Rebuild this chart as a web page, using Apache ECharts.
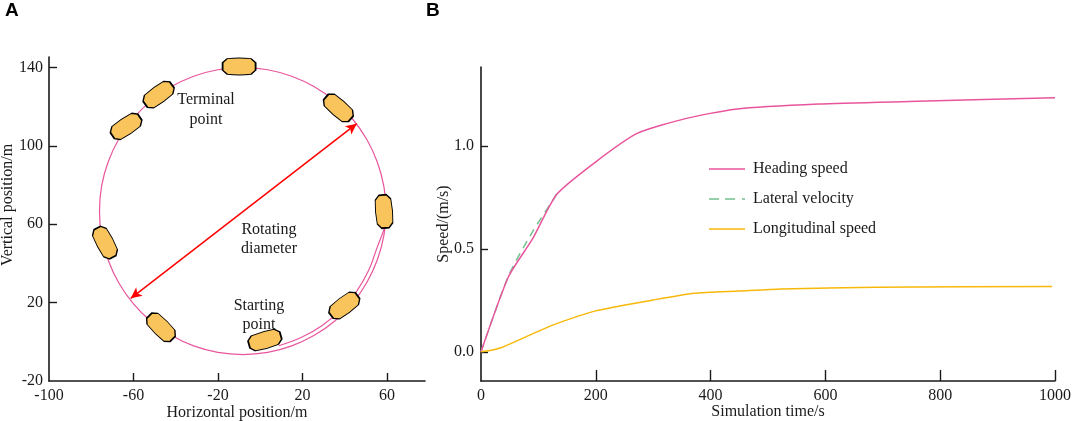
<!DOCTYPE html>
<html><head><meta charset="utf-8">
<script src="https://cdn.jsdelivr.net/npm/echarts@6/dist/echarts.min.js"></script>
<style>html,body{margin:0;padding:0;background:#fff}#c{width:1072px;height:421px}</style>
</head><body><div id="c"></div>
<script>
// ---------- Panel A data ----------
const trajectoryMain = [
  [59.5,66.7],[58.5,79.4],[55.4,91.7],[50.4,103.3],[43.6,113.8],[35.3,122.8],[25.6,130.1],
  [14.9,135.5],[3.5,138.8],[-8.3,139.9],[-20.1,138.8],[-31.5,135.5],[-42.2,130.1],
  [-51.9,122.8],[-60.2,113.8],[-67.0,103.3],[-72.0,91.7],[-75.1,79.4],[-76.1,66.7],
  [-75.1,54.0],[-72.0,41.7],[-67.0,30.1],[-60.2,19.6],[-51.9,10.6],[-42.2,3.3],
  [-31.5,-2.1],[-20.1,-5.4],[-8.3,-6.5],[3.5,-5.4],[14.9,-2.1],[25.6,3.3],[35.3,10.6],
  [43.6,19.6],[50.4,30.1],[55.4,41.7],[58.5,54.0],[59.5,66.7]
];
const trajectoryStart = [[8.8,-2.0],[19.6,2.3],[29.5,8.5],[38.3,16.4],[45.7,25.9],[51.4,36.6],[55.4,48.3],[58.0,55.5],[59.0,58.5]];
const shipX = [-10.0, -48.1, -63.5, -73.5, -47.0, 2.2, 39.8, 58.6, 37.0];
const shipY = [140.5, 126.1, 109.9, 50.6, 7.4, 0.9, 18.5, 66.5, 119.3];
const shipAngle = [0, 36, 34, -62, -45, 16, 37, 95, -41];
const arrowStart = [-61.3, 22.2];
const arrowEnd = [45.7, 111.3];
const xTicksA = [-100, -60, -20, 20, 60];
const yTicksA = [-20, 20, 60, 100, 140];

// ---------- Panel B data ----------
const headingTime = [0, 48, 90, 132, 200, 272, 356, 443, 588, 761, 1000];
const headingSpeed = [0, 0.366, 0.55, 0.766, 0.924, 1.062, 1.134, 1.18, 1.205, 1.218, 1.236];
const lateralTime = [0, 48, 90, 132];
const lateralSpeed = [0, 0.37, 0.585, 0.766];
const longTime = [0, 18, 36, 80, 126, 200, 300, 371, 450, 523, 689, 995];
const longSpeed = [0, 0.008, 0.021, 0.075, 0.131, 0.199, 0.252, 0.285, 0.296, 0.306, 0.314, 0.317];
const xTicksB = [0, 200, 400, 600, 800, 1000];
const yTicksB = [0, 0.5, 1.0];
const legendNames = ['Heading speed', 'Lateral velocity', 'Longitudinal speed'];

const serif = 'Liberation Serif';
const ink = '#1a1a1a';
const pink = '#e8559c';
const green = '#72c08e';
const orange = '#f8b80a';

const pairs = (a, b) => a.map((v, i) => [v, b[i]]);

function axisCommon(extra) {
  return Object.assign({
    type: 'value',
    splitLine: { show: false },
    nameMoveOverlap: false,
    axisLine: { show: true, onZero: false, lineStyle: { color: ink, width: 1.6 } },
    nameTextStyle: { fontFamily: serif, fontSize: 16, color: ink }
  }, extra);
}

const shipPath = 'path://M14,2 Q50,-2 86,2 L100,14 L100,36 L86,48 Q50,52 14,48 L0,36 L0,14 Z';
const solidIcon = 'path://M0,0 H36 V1.6 H0 Z';
const dashIcon = 'path://M0,0 H10 V1.6 H0 Z M16,0 H26 V1.6 H16 Z M33,0 H36 V1.6 H33 Z';

const chart = echarts.init(document.getElementById('c'), null, { renderer: 'canvas' });
chart.setOption({
  animation: false,
  backgroundColor: '#fff',
  grid: [
    { left: 49, top: 57, width: 376, height: 324, outerBoundsMode: 'none', containLabel: false },
    { left: 481, top: 67, width: 574, height: 314, outerBoundsMode: 'none', containLabel: false }
  ],
  xAxis: [
    axisCommon({
      gridIndex: 0, min: -100, max: 78,
      axisTick: { show: true, inside: true, length: 8, customValues: xTicksA.slice(1), lineStyle: { color: ink, width: 1.4 } },
      axisLabel: { customValues: xTicksA, margin: 7, fontFamily: serif, fontSize: 16, color: ink }
    }),
    axisCommon({
      gridIndex: 1, min: 0, max: 1000,
      axisTick: { show: true, inside: true, length: 11, customValues: xTicksB.slice(1), lineStyle: { color: ink, width: 1.4 } },
      axisLabel: { customValues: xTicksB, margin: 7, fontFamily: serif, fontSize: 16, color: ink, formatter: v => String(v) },
      name: 'Simulation time/s', nameLocation: 'middle', nameGap: 23
    })
  ],
  yAxis: [
    axisCommon({
      gridIndex: 0, min: -20, max: 145.3,
      axisTick: { show: true, inside: true, length: 8, customValues: yTicksA.slice(1), lineStyle: { color: ink, width: 1.4 } },
      axisLabel: { customValues: yTicksA, margin: 6, fontFamily: serif, fontSize: 16, color: ink }
    }),
    axisCommon({
      gridIndex: 1, min: -0.142, max: 1.385,
      axisTick: { show: true, inside: true, length: 7, customValues: yTicksB, lineStyle: { color: ink, width: 1.4 } },
      axisLabel: { customValues: yTicksB, margin: 7, fontFamily: serif, fontSize: 16, color: ink, formatter: v => v.toFixed(1) },
      name: 'Speed/(m/s)', nameLocation: 'middle', nameGap: 29
    })
  ],
  legend: {
    orient: 'vertical', left: 709, top: 161, padding: 0,
    itemWidth: 36, itemHeight: 1.6, itemGap: 14,
    textStyle: { fontFamily: serif, fontSize: 16, color: ink, padding: [0, 0, 0, 3] },
    data: [
      { name: legendNames[0], icon: solidIcon },
      { name: legendNames[1], icon: dashIcon },
      { name: legendNames[2], icon: solidIcon }
    ]
  },
  series: [
    {
      type: 'line', xAxisIndex: 0, yAxisIndex: 0, data: trajectoryMain, smooth: 0.4,
      showSymbol: false, symbol: 'none', clip: false,
      lineStyle: { color: pink, width: 1.2 }, z: 2,
      markLine: {
        silent: true, symbol: ['arrow', 'arrow'], symbolSize: [8, 11],
        label: { show: false },
        lineStyle: { color: '#ff0000', width: 1.5, type: 'solid' },
        data: [[{ coord: arrowStart }, { coord: arrowEnd }]]
      }
    },
    {
      type: 'line', xAxisIndex: 0, yAxisIndex: 0, data: trajectoryStart, smooth: 0.4,
      showSymbol: false, symbol: 'none', clip: false,
      lineStyle: { color: pink, width: 1.2 }, z: 2
    },
    {
      type: 'scatter', xAxisIndex: 0, yAxisIndex: 0, z: 5,
      symbol: shipPath, symbolSize: [33, 17],
      itemStyle: { color: '#f9c45c', borderColor: '#000', borderWidth: 1.3, opacity: 1 },
      data: shipX.map((x, i) => ({ value: [x, shipY[i]], symbolRotate: shipAngle[i] }))
    },
    {
      name: legendNames[1], type: 'line', xAxisIndex: 1, yAxisIndex: 1,
      data: pairs(lateralTime, lateralSpeed), smooth: 0.2, showSymbol: false, symbol: 'none',
      lineStyle: { color: green, width: 1.5, type: [8, 6] }, itemStyle: { color: green }, z: 2
    },
    {
      name: legendNames[0], type: 'line', xAxisIndex: 1, yAxisIndex: 1,
      data: pairs(headingTime, headingSpeed), smooth: 0.2, showSymbol: false, symbol: 'none',
      lineStyle: { color: pink, width: 1.5 }, itemStyle: { color: pink }, z: 3
    },
    {
      name: legendNames[2], type: 'line', xAxisIndex: 1, yAxisIndex: 1,
      data: pairs(longTime, longSpeed), smooth: 0.2, showSymbol: false, symbol: 'none',
      lineStyle: { color: orange, width: 1.5 }, itemStyle: { color: orange }, z: 3
    }
  ],
  graphic: [
    { type: 'text', left: 5, top: 1, style: { text: 'A', font: 'bold 19px "Liberation Sans"', fill: '#000' } },
    { type: 'text', left: 426, top: 1, style: { text: 'B', font: 'bold 19px "Liberation Sans"', fill: '#000' } },
    { type: 'text', x: 237, y: 413, style: { text: 'Horizontal position/m', font: '16px "Liberation Serif"', fill: ink, align: 'center', verticalAlign: 'middle' } },
    { type: 'text', x: 8, y: 205, rotation: Math.PI / 2, style: { text: 'Vertical position/m', font: '16px "Liberation Serif"', fill: ink, align: 'center', verticalAlign: 'middle' } },
    { type: 'text', x: 206, y: 110, z: 10, style: { text: 'Terminal\npoint', font: '16px "Liberation Serif"', lineHeight: 20, fill: ink, align: 'center', verticalAlign: 'middle' } },
    { type: 'text', x: 269, y: 239, z: 10, style: { text: 'Rotating\ndiameter', font: '16px "Liberation Serif"', lineHeight: 19, fill: ink, align: 'center', verticalAlign: 'middle' } },
    { type: 'text', x: 259, y: 315, z: 10, style: { text: 'Starting\npoint', font: '16px "Liberation Serif"', lineHeight: 19, fill: ink, align: 'center', verticalAlign: 'middle' } }
  ]
});
</script></body></html>
